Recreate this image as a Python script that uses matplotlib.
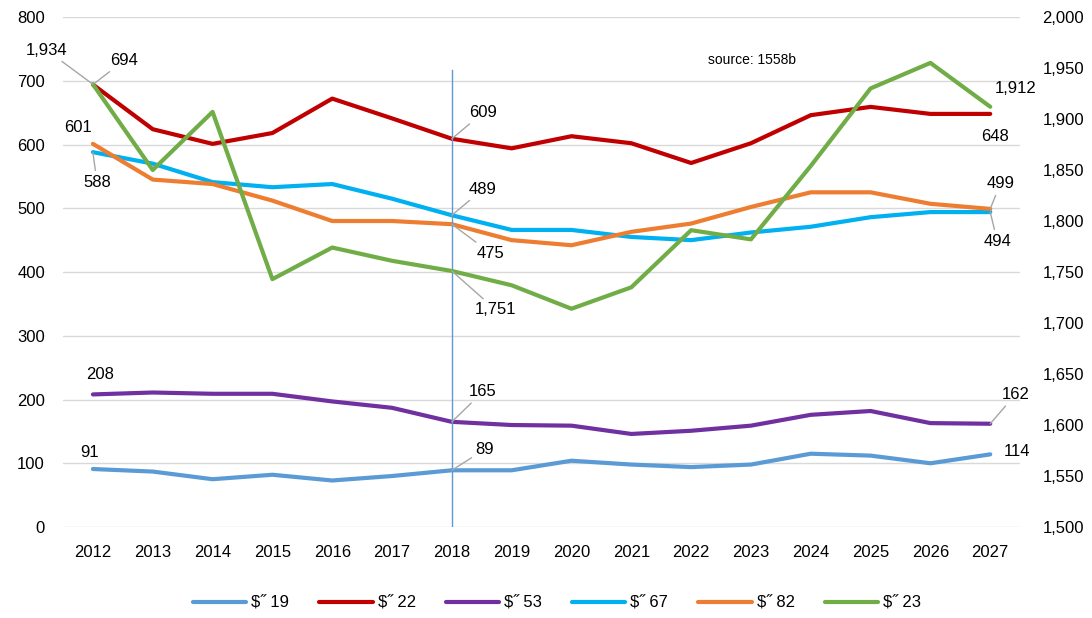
import matplotlib.pyplot as plt

# chart data
years = list(range(2012, 2028))
s19 = [91, 87, 75, 82, 73, 80, 89, 89, 104, 98, 94, 98, 115, 112, 100, 114]
s22 = [694, 624, 601, 618, 672, 641, 609, 594, 613, 602, 571, 602, 646, 659, 648, 648]
s53 = [208, 211, 209, 209, 197, 187, 165, 160, 159, 146, 151, 159, 176, 182, 163, 162]
s67 = [588, 570, 541, 533, 538, 515, 489, 466, 466, 455, 450, 462, 471, 486, 494, 494]
s82 = [601, 545, 538, 512, 480, 480, 475, 450, 442, 463, 476, 502, 525, 525, 507, 499]
s23 = [1934, 1850, 1907, 1743, 1774, 1761, 1751, 1737, 1714, 1735, 1791, 1782, 1854, 1930, 1955, 1912]
names = ["$˝ 19", "$˝ 22", "$˝ 53", "$˝ 67", "$˝ 82", "$˝ 23"]
marker_year = 2018

plt.rcParams['font.family'] = ['Liberation Sans', 'DejaVu Sans']
plt.rcParams['font.size'] = 12

fig = plt.figure(figsize=(10.92, 6.18), dpi=100)
ax = fig.add_axes([0.0577, 0.1472, 0.8765, 0.8253])
ax2 = ax.twinx()

colors = ['#5B9BD5', '#C00000', '#7030A0', '#00B0F0', '#ED7D31', '#70AD47']
left_series = [s19, s22, s53, s67, s82]
lines = []
for vals, c, n in zip(left_series, colors[:5], names[:5]):
    ln, = ax.plot(years, vals, color=c, lw=3, label=n, solid_capstyle='round', zorder=3)
    lines.append(ln)
ln, = ax2.plot(years, s23, color=colors[5], lw=3, label=names[5], solid_capstyle='round', zorder=3)
lines.append(ln)

ax.set_xlim(2011.5, 2027.5)
ax.set_ylim(0, 800)
ax2.set_ylim(1500, 2000)
ax.set_yticks(range(0, 801, 100))
ax2.set_yticks(range(1500, 2001, 50))
ax2.set_yticklabels([f"{v:,}" for v in range(1500, 2001, 50)])
ax.set_xticks(years)
ax.grid(axis='y', color='#D9D9D9', lw=1)
ax.set_axisbelow(True)
for a in (ax, ax2):
    for sp in a.spines.values():
        sp.set_visible(False)
    a.tick_params(length=0, colors='black')
ax.tick_params(axis='y', pad=13)
ax.tick_params(axis='x', pad=13)
ax2.tick_params(axis='y', pad=16)

# vertical marker line
ax.plot([marker_year, marker_year], [0, 717], color='#5B9BD5', lw=1, zorder=4)

# data labels (offsets in pixels)
lead = dict(arrowstyle='-', color='#A6A6A6', lw=1, shrinkA=1, shrinkB=0)
labels = [
    (ax, s19, 0, (-3, 17), False), (ax, s19, 6, (33, 21), True), (ax, s19, 15, (27, 3), False),
    (ax, s22, 0, (31, 24), True), (ax, s22, 6, (31, 26), True), (ax, s22, 15, (5, -23), False),
    (ax, s53, 0, (7, 20), False), (ax, s53, 6, (31, 30), True), (ax, s53, 15, (25, 29), True),
    (ax, s67, 0, (4, -30), True), (ax, s67, 6, (31, 26), True), (ax, s67, 15, (7, -29), True),
    (ax, s82, 0, (-15, 16), False), (ax, s82, 6, (39, -29), True), (ax, s82, 15, (10, 25), True),
    (ax2, s23, 0, (-46, 34), True), (ax2, s23, 6, (44, -39), True), (ax2, s23, 15, (25, 18), False),
]
for a, vals, i, off, has_lead in labels:
    a.annotate(f"{vals[i]:,}", xy=(years[i], vals[i]), xytext=off, textcoords='offset pixels',
               ha='center', va='center', fontsize=12, zorder=5,
               arrowprops=lead if has_lead else None)

fig.text(0.689, 0.903, "source: 1558b", fontsize=10, ha='center', va='center')

fig.legend(handles=lines, loc='center', bbox_to_anchor=(0.51, 0.024), ncol=6, frameon=False,
           handlelength=3.2, columnspacing=1.8, handletextpad=0.3, fontsize=12)

fig.savefig('out.png', dpi=100)
